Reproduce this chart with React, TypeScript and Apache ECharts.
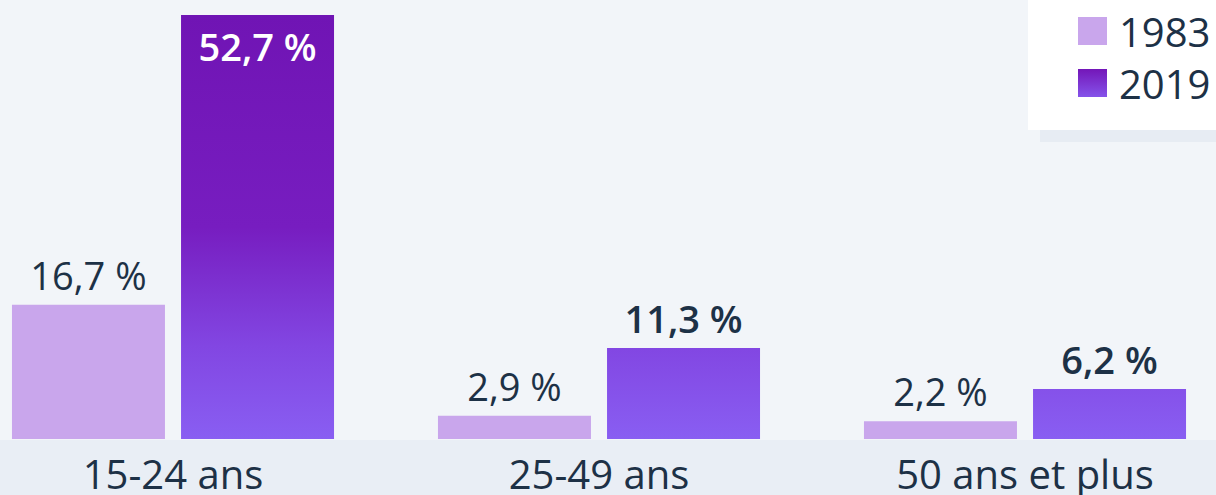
import React, { useEffect, useRef } from "react";
import * as echarts from "echarts";

const categories = ["15-24 ans", "25-49 ans", "50 ans et plus"];
const seriesNames = ["1983", "2019"];
const values1983 = [16.7, 2.9, 2.2];
const values2019 = [52.7, 11.3, 6.2];

const FONT = "'Open Sans', 'Noto Sans', sans-serif";
const DARK = "#1d3146";
const OFF = 40; // chart canvas starts 40px left of the viewport

const fmt = (v: number) => v.toFixed(1).replace(".", ",") + " %";

export default function App() {
  const ref = useRef<HTMLDivElement>(null);
  useEffect(() => {
    document.body.style.margin = "0";
    document.body.style.overflow = "hidden";
    if (!ref.current) return;
    const chart = echarts.init(ref.current, null, { renderer: "svg" });
    const grad = new echarts.graphic.LinearGradient(
      0, 15, 0, 439,
      [
        { offset: 0, color: "#7014b4" },
        { offset: 0.5, color: "#771dc0" },
        { offset: 0.78, color: "#8246e2" },
        { offset: 1, color: "#895ef2" },
      ],
      true
    );
    const legendGrad = new echarts.graphic.LinearGradient(0, 0, 0, 1, [
      { offset: 0, color: "#7316b8" },
      { offset: 1, color: "#8553ea" },
    ]);
    chart.setOption({
      animation: false,
      backgroundColor: "#f2f5f9",
      graphic: [
        {
          type: "rect",
          z: -10,
          shape: { x: 0, y: 440, width: 1300, height: 60 },
          style: { fill: "#e9eef5" },
        },
        {
          type: "rect",
          z: -5,
          shape: { x: 1040 + OFF, y: 126, width: 200, height: 16 },
          style: { fill: "#e7ecf3" },
        },
        {
          type: "rect",
          z: -4,
          shape: { x: 1028 + OFF, y: -10, width: 200, height: 140 },
          style: { fill: "#ffffff" },
        },
      ],
      legend: {
        orient: "vertical",
        left: 1073 + OFF,
        top: 6,
        padding: 5,
        itemWidth: 29,
        itemHeight: 28,
        itemGap: 12,
        icon: "rect",
        selectedMode: false,
        data: [
          { name: "1983", itemStyle: { color: "#c9a6ec" } },
          { name: "2019", itemStyle: { color: legendGrad } },
        ],
        textStyle: {
          fontFamily: FONT,
          fontSize: 40,
          color: DARK,
          padding: [0, 0, 0, 7],
        },
      },
      grid: { left: 0, right: 0, top: 15, bottom: 56 },
      xAxis: {
        type: "category",
        data: categories,
        axisLine: { show: false },
        axisTick: { show: false },
        axisLabel: {
          fontFamily: FONT,
          fontSize: 40,
          color: DARK,
          margin: 14,
        },
      },
      yAxis: {
        type: "value",
        min: 0,
        max: 52.7,
        show: false,
        splitLine: { show: false },
      },
      series: [
        {
          name: seriesNames[0],
          type: "bar",
          barWidth: 153,
          barGap: "10.5%",
          data: values1983,
          itemStyle: { color: "#c9a6ec" },
          label: {
            show: true,
            position: "top",
            distance: 11,
            fontFamily: FONT,
            fontSize: 38,
            color: DARK,
            formatter: (p: any) => fmt(p.value),
          },
        },
        {
          name: seriesNames[1],
          type: "bar",
          barWidth: 153,
          barGap: "10.5%",
          data: values2019.map((v, i) =>
            i === 0
              ? { value: v, label: { position: "insideTop", color: "#ffffff", distance: 12 } }
              : v
          ),
          itemStyle: { color: grad },
          label: {
            show: true,
            position: "top",
            distance: 11,
            fontFamily: FONT,
            fontSize: 38,
            fontWeight: 600,
            color: DARK,
            formatter: (p: any) => fmt(p.value),
          },
        },
      ],
    });
    return () => chart.dispose();
  }, []);
  return (
    <div
      ref={ref}
      style={{ position: "absolute", left: -OFF, top: 0, width: 1216 + OFF + 22, height: 495 }}
    />
  );
}
